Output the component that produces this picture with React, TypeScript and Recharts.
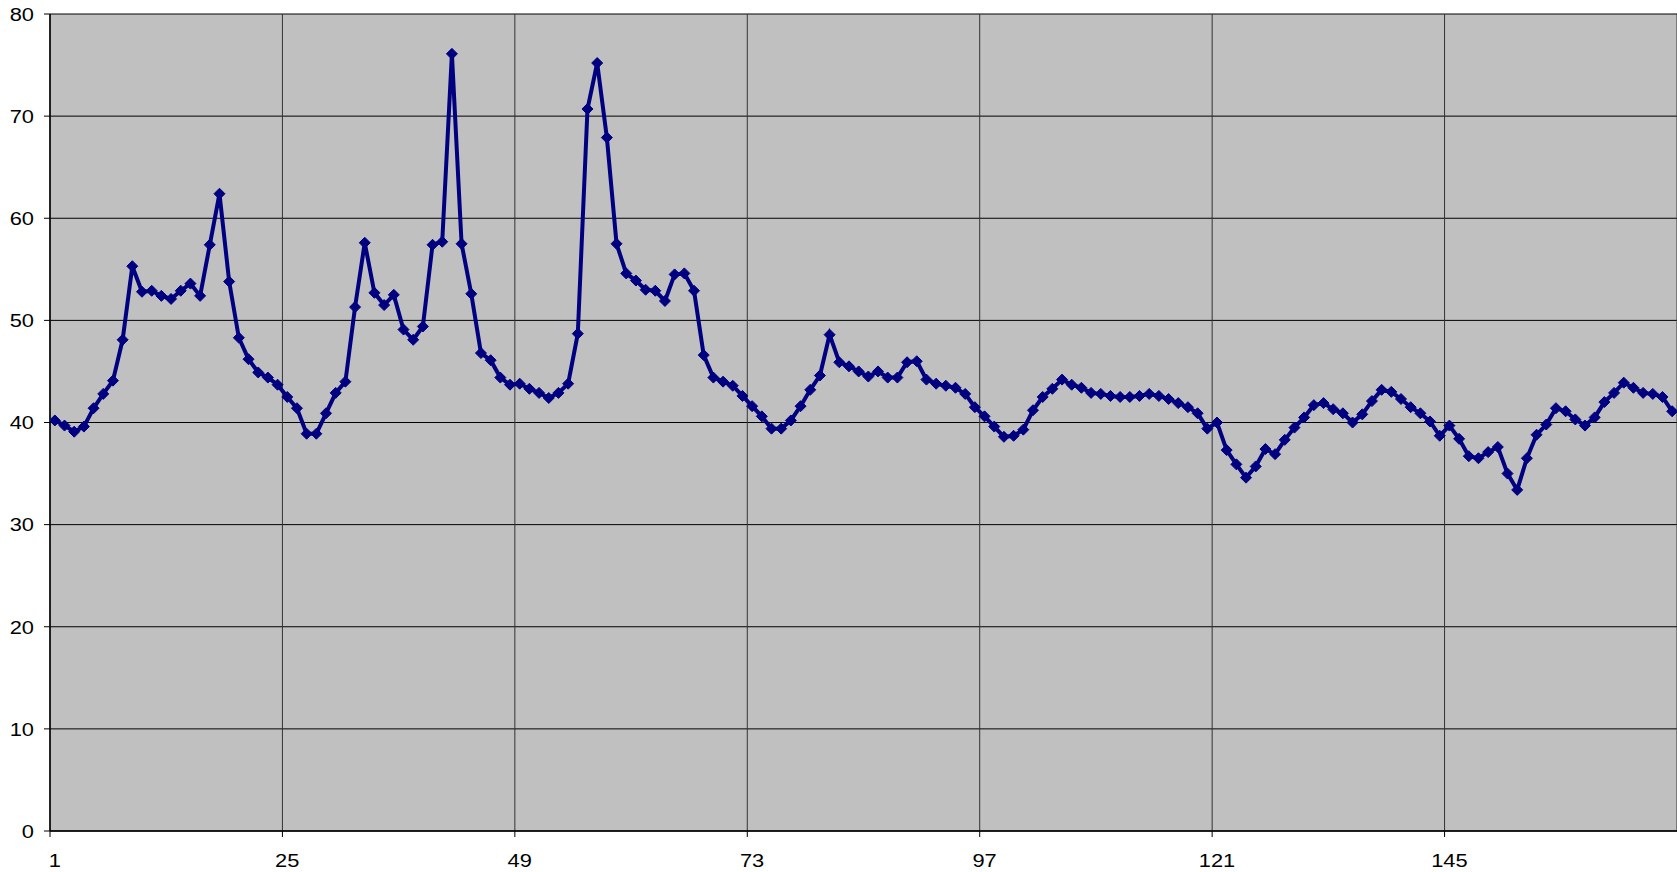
import React from 'react';
import { LineChart, Line, XAxis, YAxis, CartesianGrid } from 'recharts';

const values: number[] = [
  40.2, 39.7, 39.1, 39.6, 41.4, 42.8, 44.1, 48.1, 55.3, 52.8,
  52.9, 52.4, 52.1, 52.9, 53.6, 52.4, 57.4, 62.4, 53.8, 48.3,
  46.2, 44.9, 44.4, 43.7, 42.5, 41.4, 38.9, 38.9, 40.9, 42.9,
  44.0, 51.3, 57.6, 52.7, 51.5, 52.5, 49.1, 48.1, 49.4, 57.4,
  57.7, 76.1, 57.5, 52.6, 46.8, 46.1, 44.4, 43.7, 43.8, 43.3,
  42.9, 42.4, 42.9, 43.8, 48.7, 70.7, 75.2, 67.9, 57.5, 54.6,
  53.9, 53.0, 52.9, 51.9, 54.5, 54.6, 52.9, 46.6, 44.4, 44.0,
  43.6, 42.6, 41.6, 40.6, 39.4, 39.4, 40.2, 41.6, 43.2, 44.6,
  48.6, 45.9, 45.5, 45.0, 44.5, 45.0, 44.4, 44.4, 45.9, 46.0,
  44.2, 43.8, 43.6, 43.4, 42.8, 41.5, 40.6, 39.6, 38.6, 38.7,
  39.3, 41.2, 42.5, 43.3, 44.2, 43.7, 43.4, 42.9, 42.8, 42.6,
  42.5, 42.5, 42.6, 42.8, 42.6, 42.3, 41.9, 41.5, 40.9, 39.4,
  40.0, 37.3, 35.9, 34.6, 35.7, 37.4, 36.9, 38.3, 39.5, 40.5,
  41.7, 41.9, 41.3, 40.9, 40.0, 40.8, 42.1, 43.2, 43.0, 42.3,
  41.5, 40.9, 40.1, 38.7, 39.7, 38.4, 36.7, 36.5, 37.1, 37.6,
  35.0, 33.4, 36.5, 38.8, 39.8, 41.4, 41.1, 40.3, 39.7, 40.5,
  42.0, 42.9, 43.9, 43.4, 42.9, 42.8, 42.5, 41.1,
];

const xTickValues: number[] = [0, 24, 48, 72, 96, 120, 144];
const xTickLabels: string[] = ['1', '25', '49', '73', '97', '121', '145'];
const yTicks: number[] = [0, 10, 20, 30, 40, 50, 60, 70, 80];

// each category occupies one unit; the point sits at its centre
const data = values.map((v, i) => ({ category: i + 1, pos: i + 0.5, value: v }));

const W = 1677;
const H = 872;
const LEFT = 50;
const N = values.length;
const HALF_STEP = (W - LEFT) / N / 2;
const FONT = "'Liberation Sans', Arial, sans-serif";
const FS = 19;
const STRETCH = 1.15;

const XTick = (props: any) => {
  const { x, y, payload } = props;
  const idx = xTickValues.indexOf(payload.value);
  return (
    <g transform={`translate(${x + HALF_STEP},${y}) scale(${STRETCH},1)`}>
      <text x={0} y={0} dy="0.71em" textAnchor="middle" fill="#000" fontFamily={FONT} fontSize={FS}>
        {idx >= 0 ? xTickLabels[idx] : ''}
      </text>
    </g>
  );
};

const YTick = (props: any) => {
  const { x, y, payload } = props;
  return (
    <g transform={`translate(${x},${y}) scale(${STRETCH},1)`}>
      <text x={0} y={0} dy="0.355em" textAnchor="end" fill="#000" fontFamily={FONT} fontSize={FS}>
        {String(payload.value)}
      </text>
    </g>
  );
};

const Diamond = (props: any) => {
  const { cx, cy } = props;
  if (cx == null || cy == null) return null;
  const r = 5.5;
  return (
    <polygon
      points={`${cx},${cy - r} ${cx + r},${cy} ${cx},${cy + r} ${cx - r},${cy}`}
      fill="#000080"
      stroke="#000080"
      strokeWidth={1}
    />
  );
};

export default function App() {
  return (
    <div style={{ position: 'absolute', left: 0, top: 0, width: W, height: H, background: '#fff' }}>
      <LineChart width={W} height={H} data={data} margin={{ top: 14, right: 0, bottom: 0, left: 0 }}>
        <CartesianGrid horizontal={true} vertical={false} stroke="#000" strokeWidth={1} fill="#C0C0C0" fillOpacity={1} />
        <CartesianGrid horizontal={false} vertical={true} stroke="#333" strokeWidth={1} />
        <XAxis
          type="number"
          dataKey="pos"
          domain={[0, N]}
          ticks={xTickValues}
          interval={0}
          allowDataOverflow
          height={41}
          tickSize={6}
          tickMargin={17}
          axisLine={{ stroke: '#000', strokeWidth: 1.5 }}
          tickLine={{ stroke: '#000', strokeWidth: 1 }}
          tick={<XTick />}
        />
        <YAxis
          type="number"
          domain={[0, 80]}
          ticks={yTicks}
          interval={0}
          width={LEFT}
          tickSize={6}
          tickMargin={10}
          axisLine={{ stroke: '#000', strokeWidth: 1.5 }}
          tickLine={{ stroke: '#000', strokeWidth: 1 }}
          tick={<YTick />}
        />
        <Line
          type="linear"
          dataKey="value"
          stroke="#000080"
          strokeWidth={4}
          dot={<Diamond />}
          activeDot={false}
          isAnimationActive={false}
        />
      </LineChart>
    </div>
  );
}
